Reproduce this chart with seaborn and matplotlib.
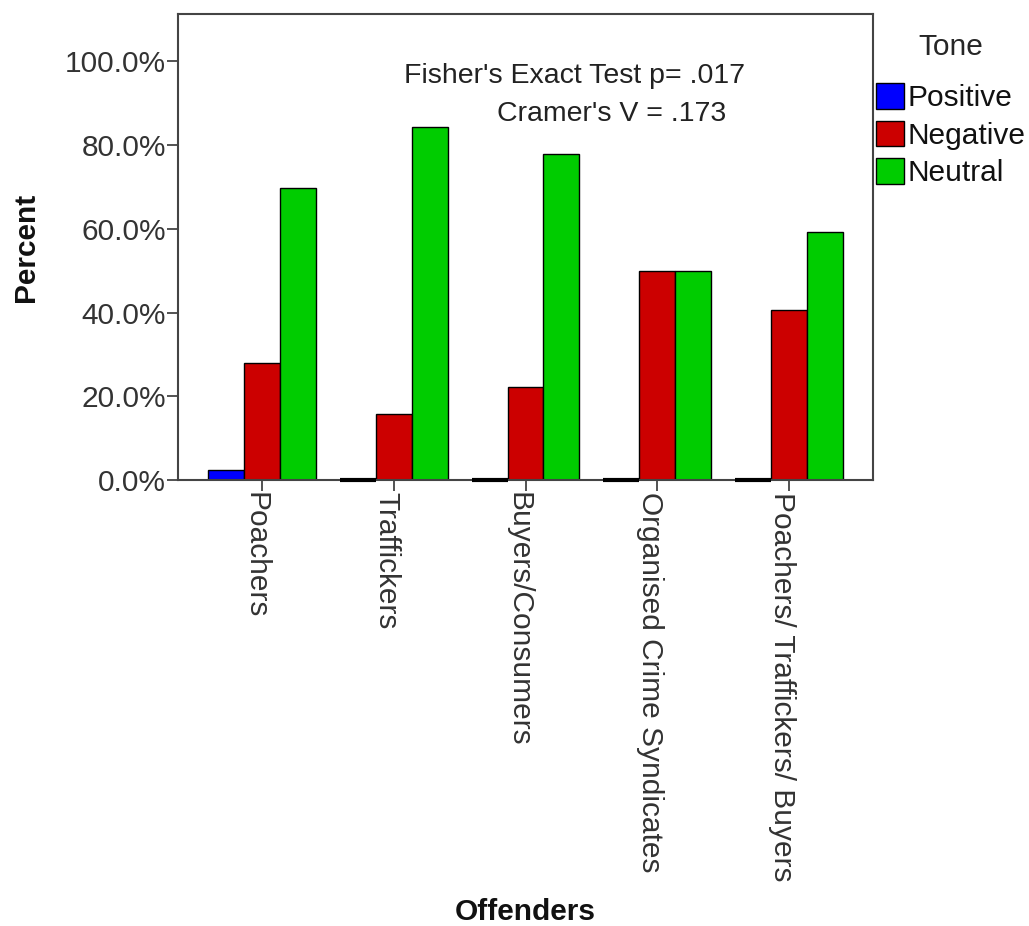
import matplotlib
matplotlib.use("Agg")
import matplotlib.pyplot as plt
import matplotlib.transforms as mtransforms
import seaborn as sns
import pandas as pd
from matplotlib.ticker import FuncFormatter

categories = ["Poachers", "Traffickers", "Buyers/Consumers",
              "Organised Crime Syndicates", "Poachers/ Traffickers/ Buyers"]
tones = ["Positive", "Negative", "Neutral"]
positive = [2.3, 0.0, 0.0, 0.0, 0.0]
negative = [27.9, 15.8, 22.2, 50.0, 40.7]
neutral = [69.8, 84.2, 77.8, 50.0, 59.3]
tone_colors = ["#0000FF", "#CC0000", "#00CC00"]

rows = []
for i, c in enumerate(categories):
    for t, vals in zip(tones, [positive, negative, neutral]):
        rows.append({"Offenders": c, "Tone": t, "Percent": vals[i]})
df = pd.DataFrame(rows)

sns.set_theme(style="white")
plt.rcParams["font.family"] = ["Liberation Sans", "DejaVu Sans"]

fig = plt.figure(figsize=(10.29, 9.26), dpi=100)
ax = fig.add_axes([178/1029, 1-480/926, 695/1029, 466/926])

sns.barplot(data=df, x="Offenders", y="Percent", hue="Tone",
            order=categories, hue_order=tones,
            palette=tone_colors, width=0.82, edgecolor="black",
            linewidth=1.0, saturation=1, ax=ax, legend=True)

# zero-height bars appear as a thick black line on the baseline
for p in ax.patches:
    if abs(p.get_height()) < 1e-9 and p.get_width() > 0:
        p.set_linewidth(3)
        p.set_zorder(5)
        p.set_clip_on(False)

ax.set_xlim(-0.64, 4.64)
ax.set_ylim(0, 111.3)
ax.set_yticks([0, 20, 40, 60, 80, 100])
ax.yaxis.set_major_formatter(FuncFormatter(lambda v, p: f"{v:.1f}%"))

for s in ax.spines.values():
    s.set_color("#444444")
    s.set_linewidth(1.5)

ax.tick_params(axis="both", which="major", direction="out", length=8,
               width=1.3, color="#444444", labelcolor="#333333",
               labelsize=21.5, left=True, bottom=True)
ax.tick_params(axis="y", pad=0.5)
ax.tick_params(axis="x", pad=0.5)
shift = mtransforms.ScaledTranslation(-7/100, 0, fig.dpi_scale_trans)
for lbl in ax.get_xticklabels():
    lbl.set_rotation(-90)
    lbl.set_ha("center")
    lbl.set_va("top")
    lbl.set_transform(lbl.get_transform() + shift)

ax.set_xlabel("Offenders", fontsize=21.5, fontweight="bold", color="#111111")
ax.set_ylabel("Percent", fontsize=21.5, fontweight="bold", color="#111111")
ax.xaxis.set_label_coords(0.5, -(898-480)/466)
ax.yaxis.set_label_coords((40-178)/695, 0.5)

ax.text((575-178)/695, (480-76)/466, "Fisher's Exact Test p= .017",
        transform=ax.transAxes, ha="center", va="center",
        fontsize=20.5, color="#222222")
ax.text((612-178)/695, (480-114)/466, "Cramer's V = .173",
        transform=ax.transAxes, ha="center", va="center",
        fontsize=20.5, color="#222222")

handles, labels = ax.get_legend_handles_labels()
leg = ax.legend(handles, labels, title="Tone", loc="upper left",
                bbox_to_anchor=(876/1029, 1-33/926), bbox_transform=fig.transFigure,
                frameon=False, fontsize=21.5, title_fontsize=21.5,
                handlelength=0.95, handleheight=0.95, handletextpad=0.1,
                labelspacing=0.28, borderaxespad=0, borderpad=0)
leg._legend_box.sep = 16
for t in leg.get_texts():
    t.set_color("#111111")

fig.savefig("out.png", dpi=100)
